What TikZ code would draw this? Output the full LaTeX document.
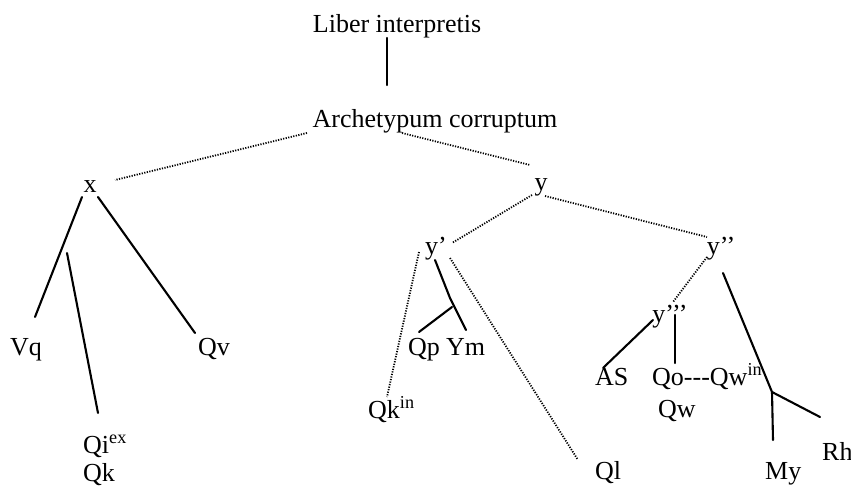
\documentclass[tikz,border=0pt]{standalone}
\usepackage{fontspec}
\setmainfont{Liberation Serif}
\begin{document}
\begin{tikzpicture}[x=1pt,y=-1pt,
  lbl/.style={inner sep=0pt,anchor=base,font=\fontsize{26}{30}\selectfont},
  lblw/.style={lbl,anchor=base west},
  solidln/.style={line width=2.1pt,line cap=round,line join=round},
  dotln/.style={line width=1.8pt,dash pattern=on 1.2pt off 1.4pt}]
\useasboundingbox (0,0) rectangle (851,486);
% nodes
\node[lbl] (lib) at (397,33) {Liber interpretis};
\node[lbl] (arch) at (435,128) {Archetypum corruptum};
\node[lbl] (x) at (90,193) {x};
\node[lbl] (y) at (541,191) {y};
\node[lbl] (y1) at (436,255) {y’};
\node[lbl] (y2) at (721,255) {y’’};
\node[lbl] (y3) at (670,322) {y’’’};
\node[lblw] (vq) at (10,355) {Vq};
\node[lblw] (qv) at (198,355) {Qv};
\node[lblw] (qi) at (83,453) {Qi\textsuperscript{ex}};
\node[lblw] (qk) at (83,481) {Qk};
\node[lblw] (qp) at (408,355) {Qp};
\node[lblw] (ym) at (446,355) {Ym};
\node[lblw] (qkin) at (368,418) {Qk\textsuperscript{in}};
\node[lblw] (ql) at (595,479) {Ql};
\node[lblw] (as) at (595,385) {AS};
\node[lblw] (qo) at (652,385) {Qo-{}-{}-Qw\textsuperscript{in}};
\node[lblw] (qw) at (658,417) {Qw};
\node[lblw] (my) at (765,479) {My};
\node[lblw] (rh) at (822,460) {Rh};
% connector end points
\coordinate (libS) at (387,38);
\coordinate (archN) at (387,85);
\coordinate (archL) at (307,133);
\coordinate (xR) at (115,180);
\coordinate (archR) at (402,133);
\coordinate (yN) at (530,165);
\coordinate (xL) at (82,197);
\coordinate (vqN) at (35,317);
\coordinate (xRb) at (98,197);
\coordinate (qvN) at (195,333);
\coordinate (qiTop) at (67,253);
\coordinate (qiN) at (98,413);
\coordinate (yL) at (532,195);
\coordinate (y1R) at (452,243);
\coordinate (yR) at (545,196);
\coordinate (y2L) at (707,237);
\coordinate (y1L) at (419,252);
\coordinate (qkinN) at (387,397);
\coordinate (y1Rb) at (450,258);
\coordinate (qlN) at (578,460);
\coordinate (y1S) at (435,260);
\coordinate (ymBend) at (450,298);
\coordinate (ymN) at (466,330);
\coordinate (qpFork) at (452,307);
\coordinate (qpN) at (419,332);
\coordinate (y2S) at (707,257);
\coordinate (y3N) at (673,302);
\coordinate (y3L) at (653,320);
\coordinate (asN) at (603,368);
\coordinate (y3S) at (675,315);
\coordinate (qoN) at (675,363);
\coordinate (y2Sb) at (723,273);
\coordinate (myFork) at (772,392);
\coordinate (myN) at (773,440);
\coordinate (rhN) at (820,417);
% connectors
\draw[solidln] (libS) -- (archN);
\draw[dotln] (archL) -- (xR);
\draw[dotln] (archR) -- (yN);
\draw[solidln] (xL) -- (vqN);
\draw[solidln] (xRb) -- (qvN);
\draw[solidln] (qiTop) -- (qiN);
\draw[dotln] (yL) -- (y1R);
\draw[dotln] (yR) -- (y2L);
\draw[dotln] (y1L) -- (qkinN);
\draw[dotln] (y1Rb) -- (qlN);
\draw[solidln] (y1S) -- (ymBend) -- (ymN);
\draw[solidln] (qpFork) -- (qpN);
\draw[dotln] (y2S) -- (y3N);
\draw[solidln] (y3L) -- (asN);
\draw[solidln] (y3S) -- (qoN);
\draw[solidln] (y2Sb) -- (myFork) -- (myN);
\draw[solidln] (myFork) -- (rhN);
\end{tikzpicture}
\end{document}
